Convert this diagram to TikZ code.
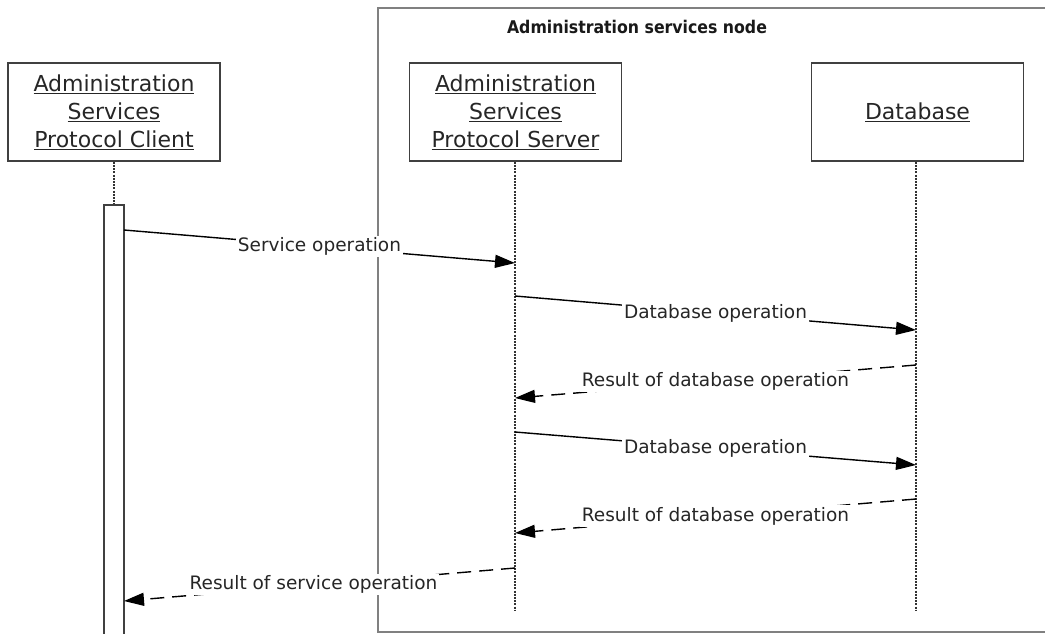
\documentclass[tikz,border=0pt]{standalone}
\usepackage{fontspec}
\setmainfont{DejaVu Sans}
\newfontfamily\condfont{DejaVu Sans Condensed}
\usetikzlibrary{arrows.meta}
\newcommand\ulx[1]{\underline{#1}}
\begin{document}
\begin{tikzpicture}[x=1pt,y=-1pt,
  framebox/.style={draw=black!50, line width=2pt, inner sep=0pt},
  obj/.style={draw=black!75, line width=1.4pt, fill=white, minimum width=212pt, minimum height=98pt, align=center, inner sep=0pt, text=black!85, font=\fontsize{22}{28}\selectfont},
  life/.style={draw=black!80, line width=1.2pt, dash pattern=on 2pt off 1.2pt},
  actbar/.style={draw=black!75, line width=1.4pt, fill=white},
  msg/.style={draw=black, line width=1.4pt, -{Triangle[length=20pt,width=13pt]}},
  ret/.style={msg, dash pattern=on 14pt off 8pt},
  lbl/.style={fill=white, inner sep=2pt, text=black!85, font=\fontsize{18.5}{22}\selectfont},
  titlelbl/.style={text=black!90, font=\condfont\bfseries\fontsize{17.5}{20}\selectfont}]
\useasboundingbox (0,0) rectangle (1045,633);
\begin{scope}
\clip (0,0) rectangle (1045,633);
\fill[white] (0,0) rectangle (1045,633);
% outer frame
\draw[framebox] (1070,8) -- (378,8) -- (378,632) -- (1070,632);
\node[titlelbl] (title) at (637,27) {Administration services node};
% objects
\node[obj] (client) at (114,112) {\ulx{Administration}\\\ulx{Services}\\\ulx{Protocol Client}};
\node[obj] (server) at (515.5,112) {\ulx{Administration}\\\ulx{Services}\\\ulx{Protocol Server}};
\node[obj] (db) at (917.5,112) {\ulx{Database}};
% lifelines
\coordinate (clientend) at (114,205);
\coordinate (serverend) at (515,610);
\coordinate (dbend) at (916,610);
\draw[life] (client.south) -- (clientend);
\draw[life] (server.south -| serverend) -- (serverend);
\draw[life] (db.south -| dbend) -- (dbend);
% activation bar
\draw[actbar] (104,205) rectangle (124,645);
% message endpoints
\coordinate (m1a) at (124,230);  \coordinate (m1b) at (515,263);
\coordinate (m2a) at (515,296);  \coordinate (m2b) at (916,330);
\coordinate (m3a) at (916,365);  \coordinate (m3b) at (515,398);
\coordinate (m4a) at (515,432);  \coordinate (m4b) at (916,465);
\coordinate (m5a) at (916,499);  \coordinate (m5b) at (515,533);
\coordinate (m6a) at (515,568);  \coordinate (m6b) at (124,601);
\draw[msg] (m1a) -- node[lbl] {Service operation} (m1b);
\draw[msg] (m2a) -- node[lbl] {Database operation} (m2b);
\draw[ret] (m3a) -- node[lbl] {Result of database operation} (m3b);
\draw[msg] (m4a) -- node[lbl] {Database operation} (m4b);
\draw[ret] (m5a) -- node[lbl] {Result of database operation} (m5b);
\draw[ret] (m6a) -- node[lbl, xshift=-6pt] {Result of service operation} (m6b);
\end{scope}
\end{tikzpicture}
\end{document}
